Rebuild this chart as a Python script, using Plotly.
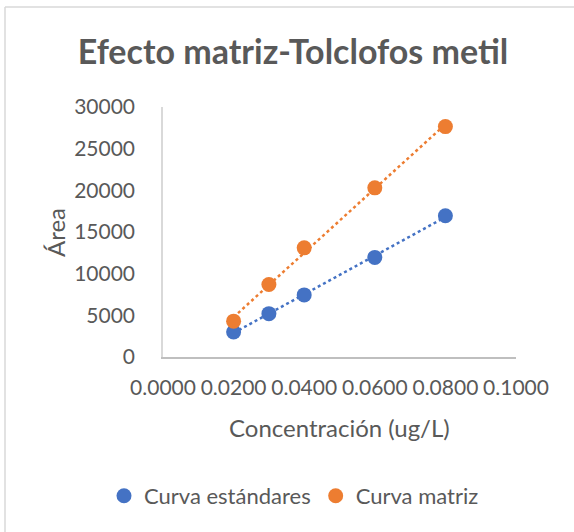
import numpy as np
import plotly.graph_objects as go

conc = [0.02, 0.03, 0.04, 0.06, 0.08]
area_std = [3000, 5200, 7450, 11950, 16950]
area_mat = [4300, 8700, 13100, 20300, 27650]

series_names = ["Curva estándares", "Curva matriz"]
colors = ["#4472C4", "#ED7D31"]
x_ticks = [0.0, 0.02, 0.04, 0.06, 0.08, 0.1]
x_tick_labels = ["0.0000", "0.0200", "0.0400", "0.0600", "0.0800", "0.1000"]
y_ticks = [0, 5000, 10000, 15000, 20000, 25000, 30000]

FONT = "Lato, 'Open Sans', sans-serif"
GRAY = "#595959"

W, H = 574, 532
L, R, T, B = 163, 58, 107, 175
pw = W - L - R
ph = H - T - B

fig = go.Figure()
for name, ys, c in zip(series_names, [area_std, area_mat], colors):
    xa = np.array(conc)
    m, b = np.polyfit(xa, np.array(ys), 1)
    xt = np.array([min(conc), max(conc)])
    fig.add_trace(go.Scatter(x=xt, y=m * xt + b, mode="lines",
                             line=dict(color=c, width=2.5, dash="dot"),
                             showlegend=False, hoverinfo="skip"))
for name, ys, c in zip(series_names, [area_std, area_mat], colors):
    fig.add_trace(go.Scatter(x=conc, y=ys, mode="markers", name=name,
                             marker=dict(color=c, size=15)))

# chart border: only its top and left edges fall inside the frame
bx0 = (5 - L) / pw
by1 = (H - 7 - B) / ph
fig.add_shape(type="line", xref="paper", yref="paper",
              x0=bx0, x1=(W + 20 - L) / pw, y0=by1, y1=by1,
              line=dict(color="#D9D9D9", width=1.5), layer="below")
fig.add_shape(type="line", xref="paper", yref="paper",
              x0=bx0, x1=bx0, y0=by1, y1=-(H + 20 - T - ph) / ph,
              line=dict(color="#D9D9D9", width=1.5), layer="below")

fig.add_annotation(text="Concentración (ug/L)", xref="paper", yref="paper",
                   x=(339 - L) / pw, y=(T + ph - 427) / ph,
                   xanchor="center", yanchor="middle", showarrow=False,
                   font=dict(size=24, color=GRAY, family=FONT))
fig.add_annotation(text="Área", xref="paper", yref="paper",
                   x=(55 - L) / pw, y=(T + ph - 233) / ph, textangle=-90,
                   xanchor="center", yanchor="middle", showarrow=False,
                   font=dict(size=24, color=GRAY, family=FONT))

fig.update_layout(
    width=W, height=H,
    margin=dict(l=L, r=R, t=T, b=B, pad=0, autoexpand=False),
    paper_bgcolor="white", plot_bgcolor="white",
    font=dict(family=FONT, color=GRAY, size=21),
    title=dict(text="<b>Efecto matriz-Tolclofos metil</b>",
               x=293 / W, xanchor="center", xref="container",
               y=1 - 52 / H, yanchor="middle",
               font=dict(size=34, color=GRAY, family=FONT)),
    xaxis=dict(range=[0, 0.1], tickvals=x_ticks, ticktext=x_tick_labels,
               showgrid=False, zeroline=False, showline=True,
               linecolor="#BFBFBF", linewidth=1.5, ticks="",
               ticklabelstandoff=11,
               tickfont=dict(size=21, color=GRAY)),
    yaxis=dict(range=[0, 30000], tickvals=y_ticks, tickformat="d",
               showgrid=False, zeroline=False, showline=True,
               linecolor="#D9D9D9", linewidth=1.5, ticks="",
               ticklabelstandoff=22,
               tickfont=dict(size=21, color=GRAY)),
    legend=dict(orientation="h", xref="paper", yref="paper",
                x=(104 - L) / pw, xanchor="left",
                y=(T + ph - 496) / ph, yanchor="middle",
                font=dict(size=22, color=GRAY), itemwidth=30,
                tracegroupgap=0, bgcolor="rgba(0,0,0,0)"),
)

fig.write_html("out.html", config={"displayModeBar": False},
               post_script="document.body.style.margin='0px';")
